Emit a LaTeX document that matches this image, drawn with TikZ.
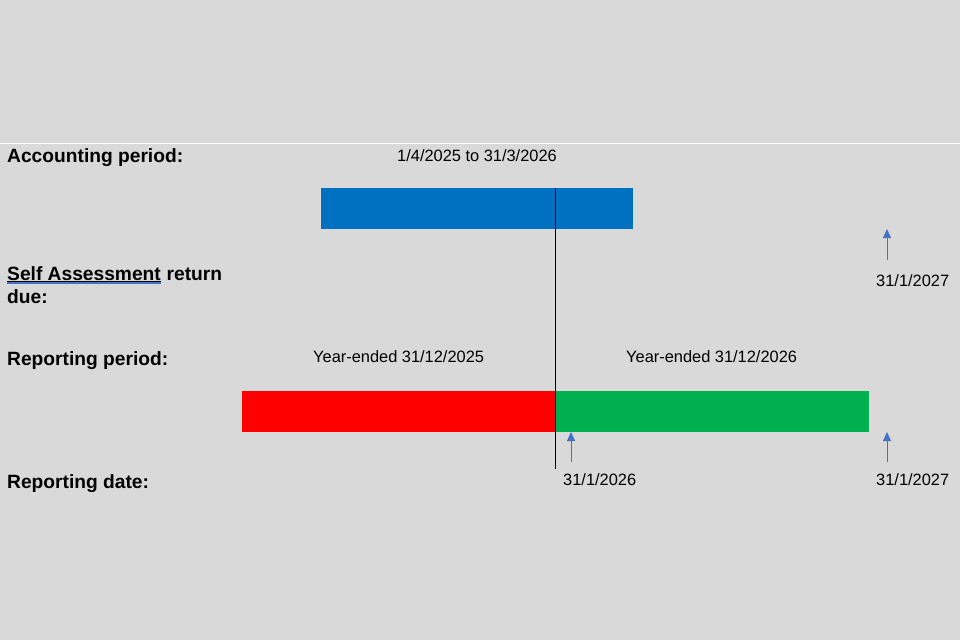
\documentclass[tikz,border=0pt]{standalone}
\usepackage{fontspec}
\setmainfont{Liberation Sans}
\usetikzlibrary{arrows.meta,positioning}

\definecolor{bgrey}{HTML}{D9D9D9}
\definecolor{acblue}{HTML}{0070C0}
\definecolor{rpred}{HTML}{FF0000}
\definecolor{rpgreen}{HTML}{00B050}
\definecolor{arblue}{HTML}{4472C4}

\tikzset{
  rowlabel/.style={anchor=base west, inner sep=0pt, font=\fontsize{19.2}{23}\selectfont\bfseries},
  datelabel/.style={anchor=base west, inner sep=0pt, font=\fontsize{16.4}{20}\selectfont},
  periodbar/.style={rectangle, draw=none, minimum height=41pt, inner sep=0pt, anchor=north west},
  duearrow/.style={draw=arblue, line width=1pt, -{Triangle[length=9pt,width=8pt]}}
}

\begin{document}
\begin{tikzpicture}[x=1pt, y=-1pt]
    \useasboundingbox[fill=bgrey] (0,0) rectangle (960,640);
    %  \draw[help lines] (0,0) grid (960,640);

      \draw[white, line width=1pt] (0,143) -- (960,143);

      % row labels
      \node [rowlabel] (acc) at (7,162) {Accounting period:};
      \node [rowlabel] (sa) at (7,280) {Self Assessment};
      \node [rowlabel, anchor=base west] (ret) at (sa.base east) {\ return};
      \node [rowlabel] (due) at (7,303) {due:};
      \node [rowlabel] (repp) at (7,365) {Reporting period:};
      \node [rowlabel] (repd) at (7,488) {Reporting date:};

      \draw[black, line width=1pt] ([yshift=-1.5pt]sa.base west) -- ([yshift=-1.5pt]sa.base east);
      \draw[arblue, line width=1.3pt] ([yshift=-3pt]sa.base west) -- ([yshift=-3pt]sa.base east);

      % bars
      \node [periodbar, fill=acblue, minimum width=312pt] (accbar) at (321,188) {};
      \node [periodbar, fill=rpred, minimum width=313pt] (redbar) at (242,391) {};
      \node [periodbar, fill=rpgreen, minimum width=314pt] (greenbar) at (555,391) {};

      \node [datelabel] (acctxt) at (397,161) {1/4/2025 to 31/3/2026};
      \node [datelabel] (y25) at (313,362) {Year-ended 31/12/2025};
      \node [datelabel] (y26) at (626,362) {Year-ended 31/12/2026};

      % divider
      \coordinate (divtop) at (555,188);
      \coordinate (divbot) at (555,469);
      \draw[black, line width=1pt] (divtop) -- (divbot);

      % due dates
      \node [datelabel] (sadate) at (876,286) {31/1/2027};
      \node [datelabel] (d26) at (563,485) {31/1/2026};
      \node [datelabel] (d27) at (876,485) {31/1/2027};

      \coordinate (satip) at (887,229);
      \coordinate (tip26) at (571,432);
      \coordinate (tip27) at (887,432);

      \draw[duearrow] (887,260) -- (satip);
      \draw[duearrow] (571,462) -- (tip26);
      \draw[duearrow] (887,462) -- (tip27);
\end{tikzpicture}
\end{document}
